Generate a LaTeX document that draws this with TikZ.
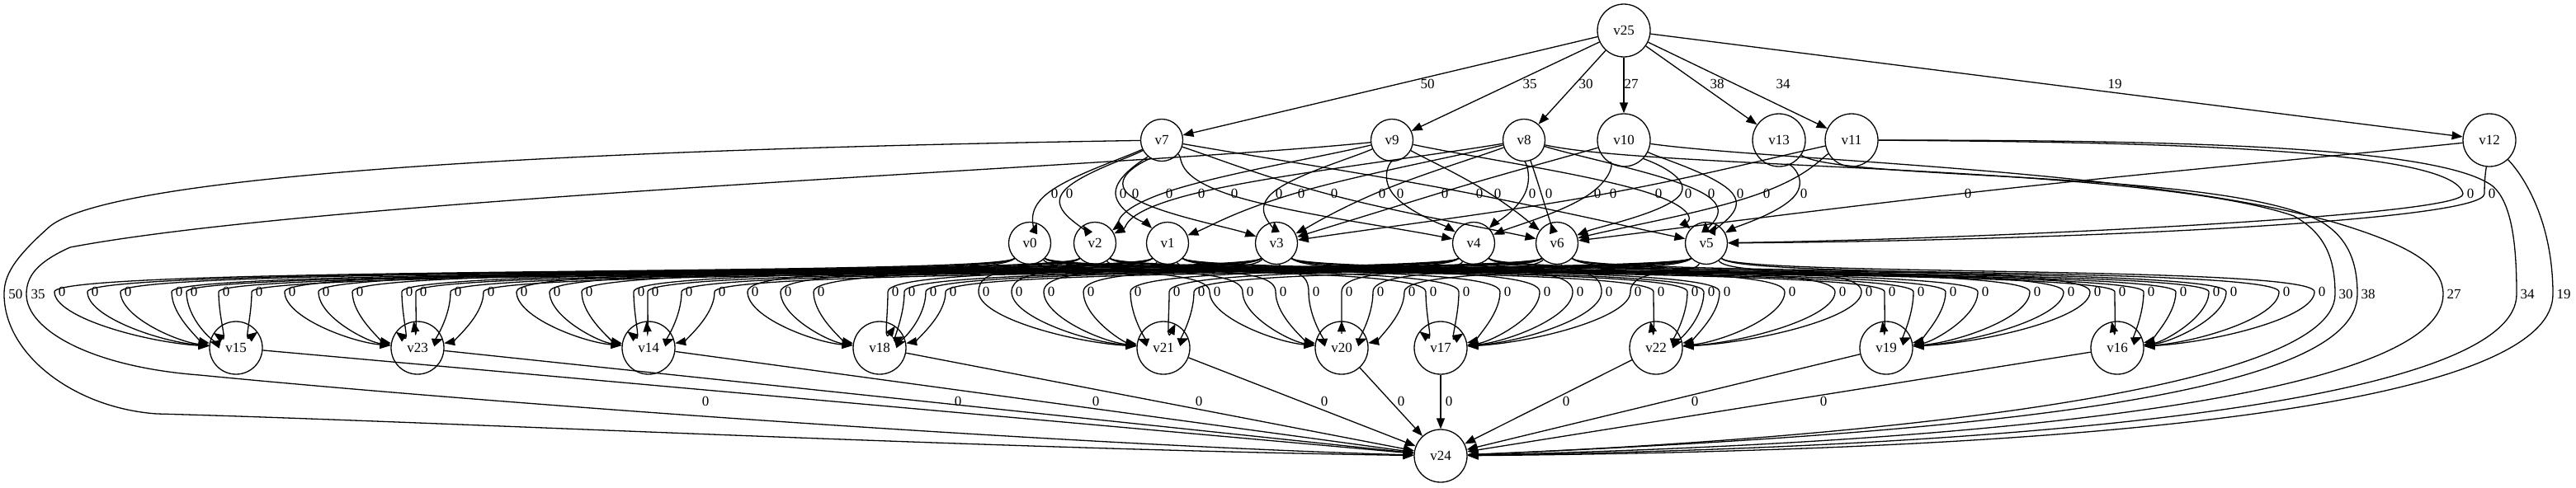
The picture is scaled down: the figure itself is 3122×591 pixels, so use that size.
\documentclass[tikz,border=0pt]{standalone}
\usepackage{fontspec}
\setmainfont{Liberation Serif}
\usetikzlibrary{arrows.meta}
\begin{document}
\begin{tikzpicture}[x=0.5pt,y=-0.5pt,
  vtx/.style={circle,draw,line width=0.65pt,inner sep=0pt,font=\fontsize{8.5}{9}\selectfont},
  dd/.style={minimum size=32pt},
  sd/.style={minimum size=25.5pt},
  arr/.style={line width=0.65pt,-{Triangle[length=6.5pt,width=5pt]}},
  lbl/.style={inner sep=0pt,font=\fontsize{8.5}{9}\selectfont}]
\useasboundingbox (0,0) rectangle (3122,591);
% nodes
\node[vtx,dd] (v25) at (1968,37) {v25};
\node[vtx,sd] (v7) at (1408,170) {v7};
\node[vtx,sd] (v9) at (1687,170) {v9};
\node[vtx,sd] (v8) at (1847,170) {v8};
\node[vtx,dd] (v10) at (1968,170) {v10};
\node[vtx,dd] (v13) at (2156,170) {v13};
\node[vtx,dd] (v11) at (2244,170) {v11};
\node[vtx,dd] (v12) at (3017,170) {v12};
\node[vtx,sd] (v0) at (1248,295) {v0};
\node[vtx,sd] (v2) at (1327,295) {v2};
\node[vtx,sd] (v1) at (1415,295) {v1};
\node[vtx,sd] (v3) at (1547,295) {v3};
\node[vtx,sd] (v4) at (1786,295) {v4};
\node[vtx,sd] (v6) at (1887,295) {v6};
\node[vtx,sd] (v5) at (2068,295) {v5};
\node[vtx,dd] (v15) at (286,422) {v15};
\node[vtx,dd] (v23) at (506,422) {v23};
\node[vtx,dd] (v14) at (786,422) {v14};
\node[vtx,dd] (v18) at (1066,422) {v18};
\node[vtx,dd] (v21) at (1410,422) {v21};
\node[vtx,dd] (v20) at (1626,422) {v20};
\node[vtx,dd] (v17) at (1746,422) {v17};
\node[vtx,dd] (v22) at (2007,422) {v22};
\node[vtx,dd] (v19) at (2286,422) {v19};
\node[vtx,dd] (v16) at (2566,422) {v16};
\node[vtx,dd] (v24) at (1746,553) {v24};
% v25 -> top row
\foreach \B/\lx/\w in {v7/1730/50, v9/1854/35, v8/1922/30, v10/1977/27, v13/2081/38, v11/2161/34, v12/2563/19}{
  \draw[arr] (v25) -- (\B);
  \node[lbl] (w\B) at (\lx,102) {\w};
}
% top -> middle
\foreach \A/\ax/\B/\bx/\lx [count=\n] in {
 v7/1408/v0/1248/1278, v7/1408/v2/1327/1296, v7/1408/v1/1415/1361, v7/1408/v3/1547/1376,
 v9/1687/v2/1327/1417, v8/1847/v2/1327/1456, v7/1408/v4/1786/1496, v9/1687/v3/1547/1550,
 v8/1847/v1/1415/1577, v7/1408/v6/1887/1617, v8/1847/v3/1547/1675, v9/1687/v4/1786/1697,
 v10/1968/v3/1547/1751, v7/1408/v5/2068/1793, v9/1687/v6/1887/1815, v8/1847/v4/1786/1857,
 v8/1847/v6/1887/1877, v10/1968/v4/1786/1936, v11/2244/v3/1547/1955, v9/1687/v5/2068/2010,
 v10/1968/v6/1887/2046, v8/1847/v5/2068/2074, v10/1968/v5/2068/2109, v11/2244/v6/1887/2141,
 v13/2156/v5/2068/2186, v12/3017/v6/1887/2385}{
  \pgfmathsetmacro\wx{\lx-9}
  \pgfmathsetmacro\qa{\ax+(\wx-\ax)/3}
  \pgfmathsetmacro\qb{\wx-0.17*(\bx-\ax)}
  \pgfmathsetmacro\qc{\wx+0.17*(\bx-\ax)}
  \pgfmathsetmacro\qd{\bx+(\wx-\bx)/3}
  \draw[arr] (\A) .. controls (\qa,192) and (\qb,213) .. (\wx,235) .. controls (\qc,257) and (\qd,275) .. (\B);
  \node[lbl] (t\n) at (\lx,235) {0};
}
\draw[arr] (v11) .. controls (2600,172) and (2975,180) .. (2985,235) .. controls (2990,262) and (2400,290) .. (v5);
\node[lbl] (t27) at (2994,235) {0};
\draw[arr] (v12) .. controls (3013,205) and (3011,215) .. (3011,235) .. controls (3011,268) and (2500,292) .. (v5);
\node[lbl] (t28) at (3020,235) {0};
% middle -> bottom
\foreach \B/\bx/\la/\lb/\lc/\ld/\le/\lf/\lg in {
 v15/286/75/115/155/217/235/274/314,
 v23/506/354/395/436/496/513/555/595,
 v14/786/635/675/714/777/794/835/875,
 v18/1066/915/955/995/1085/1105/1131/1155,
 v21/1410/1195/1235/1274/1322/1379/1426/1456,
 v20/1626/1475/1515/1555/1595/1635/1673/1711,
 v17/1746/1737/1777/1827/1875/1915/1950/1985,
 v22/2007/2013/2054/2074/2093/2172/2233/2265,
 v19/2286/2293/2328/2367/2406/2469/2510/2542,
 v16/2566/2572/2607/2646/2686/2707/2771/2814}{
  \foreach \A/\ax/\lx [count=\n] in {v0/1248/\la, v2/1327/\lb, v1/1415/\lc, v3/1547/\ld, v4/1786/\le, v6/1887/\lf, v5/2068/\lg}{
    \pgfmathsetmacro\wx{\lx-9}
    \pgfmathsetmacro\qa{\ax+max(-40,min(40,0.15*(\wx-\ax)))}
    \pgfmathsetmacro\qd{\bx+0.5*(\wx-\bx)}
    \draw[arr] (\A) .. controls (\qa,335) and (\wx,322) .. (\wx,354) .. controls (\wx,385) and (\qd,415) .. (\B);
    \node[lbl] (m\B-\n) at (\lx,354) {0};
  }
}
% bottom -> v24
\foreach \A/\lx in {v15/855, v23/1161, v14/1328, v18/1453, v21/1605, v20/1698, v17/1756, v22/1898, v19/2054, v16/2210}{
  \draw[arr] (\A) -- (v24);
  \node[lbl] (b\A) at (\lx,487) {0};
}
% long edges to v24
\draw[arr] (v7) .. controls (900,178) and (150,200) .. (60,275) .. controls (15,315) and (5,335) .. (5,357) .. controls (5,430) and (90,495) .. (190,502) .. controls (500,510) and (1200,545) .. (v24);
\node[lbl] (l50) at (19,357) {50};
\draw[arr] (v9) .. controls (1400,200) and (400,240) .. (85,300) .. controls (45,318) and (32,335) .. (32,357) .. controls (32,400) and (110,445) .. (242,455) .. controls (600,490) and (1300,540) .. (v24);
\node[lbl] (l35) at (46,357) {35};
\draw[arr] (v8) .. controls (2000,205) and (2600,200) .. (2780,262) .. controls (2822,285) and (2830,320) .. (2830,357) .. controls (2830,470) and (2300,530) .. (v24);
\node[lbl] (l30) at (2843,357) {30};
\draw[arr] (v13) .. controls (2230,220) and (2700,205) .. (2815,270) .. controls (2850,292) and (2857,325) .. (2857,357) .. controls (2857,480) and (2400,525) .. (v24);
\node[lbl] (l38) at (2870,357) {38};
\draw[arr] (v10) .. controls (2150,195) and (2600,205) .. (2830,270) .. controls (2930,300) and (2961,325) .. (2961,357) .. controls (2961,470) and (2500,535) .. (v24);
\node[lbl] (l27) at (2974,357) {27};
\draw[arr] (v11) .. controls (2600,170) and (2950,175) .. (3020,225) .. controls (3045,245) and (3050,300) .. (3050,357) .. controls (3050,470) and (2600,540) .. (v24);
\node[lbl] (l34) at (3063,357) {34};
\draw[arr] (v12) .. controls (3060,215) and (3094,270) .. (3094,357) .. controls (3094,470) and (2700,545) .. (v24);
\node[lbl] (l19) at (3107,357) {19};
\end{tikzpicture}
\end{document}
